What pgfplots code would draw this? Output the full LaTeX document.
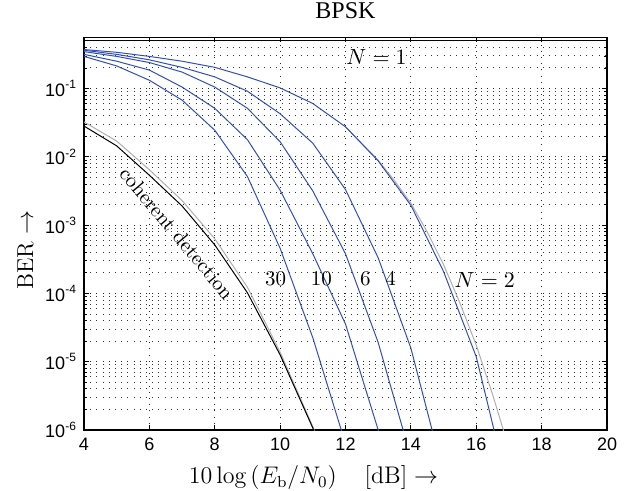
\documentclass[border=0pt]{standalone}
\usepackage{fontspec}
\usepackage{pgfplots}
\pgfplotsset{compat=1.18}
\newfontfamily\hv{Liberation Sans}
\newfontfamily\tm{Liberation Serif}
\definecolor{cblue}{RGB}{50,80,180}
\definecolor{cgray}{RGB}{175,175,175}
\begin{document}
\begin{tikzpicture}
\begin{semilogyaxis}[
  scale only axis, width=261.5pt, height=196.3pt,
  xmin=4, xmax=20, ymin=1e-6, ymax=0.56,
  xtick={4,6,8,10,12,14,16,18,20},
  xticklabels={4,6,8,10,12,14,16,18,20},
  ytick={1e-6,1e-5,1e-4,1e-3,1e-2,1e-1},
  yticklabels={10\textsuperscript{-6},10\textsuperscript{-5},10\textsuperscript{-4},10\textsuperscript{-3},10\textsuperscript{-2},10\textsuperscript{-1}},
  minor ytick={2e-6,3e-6,4e-6,5e-6,6e-6,7e-6,8e-6,9e-6,
               2e-5,3e-5,4e-5,5e-5,6e-5,7e-5,8e-5,9e-5,
               2e-4,3e-4,4e-4,5e-4,6e-4,7e-4,8e-4,9e-4,
               2e-3,3e-3,4e-3,5e-3,6e-3,7e-3,8e-3,9e-3,
               2e-2,3e-2,4e-2,5e-2,6e-2,7e-2,8e-2,9e-2,
               0.2,0.3,0.4,0.5},
  tick label style={font=\hv\fontsize{9}{10.5}\selectfont},
  xticklabel style={yshift=-0.5pt},
  xmajorgrids=true, ymajorgrids=true, yminorgrids=true,
  major grid style={black!85, line width=0.45pt, dash pattern=on 0.5pt off 2.6pt},
  minor grid style={black!80, line width=0.45pt, dash pattern=on 0.5pt off 2.6pt},
  tick align=inside, major tick length=2.5pt, minor tick length=1.3pt,
  every tick/.style={black, line width=0.4pt},
  axis line style={black, line width=0.65pt},
  title={\tm\fontsize{12}{14}\selectfont BPSK},
  xlabel={$10\log\left(E_{\mathrm{b}}/N_0\right)\quad[\mathrm{dB}]\rightarrow$},
  ylabel={BER $\rightarrow$},
  label style={font=\fontsize{11.5}{13.5}\selectfont},
  xlabel style={font=\fontsize{12}{14}\selectfont, yshift=-0.5pt, xshift=-16pt},
  ylabel style={xshift=-8pt, yshift=-1pt},
]
% gray reference curves (drawn below)
\addplot[cgray, line width=0.5pt] coordinates {
 (4,0.0324) (5,0.0170) (6,6.46e-3) (7,2.29e-3) (8,6.31e-4) (9,1.23e-4) (10,1.38e-5) (11,1.12e-6) (12,7.1e-8)};
\addplot[cgray, line width=0.5pt] coordinates {
 (12,0.0275) (13,8.91e-3) (13.5,4.47e-3) (14,2.09e-3) (14.5,7.94e-4) (15,2.63e-4) (15.5,7.24e-5) (16,1.74e-5) (16.5,3.31e-6) (17,5.37e-7)};
% coherent detection
\addplot[black, line width=0.5pt] coordinates {
 (4,0.0282) (5,0.01445) (6,5.37e-3) (7,1.905e-3) (8,5.13e-4) (9,1.02e-4) (10,1.26e-5) (11,1.07e-6) (12,6.3e-8)};
% N = 1
\addplot[black, line width=0.6pt] coordinates {(4,0.5) (20,0.5)};
% N = 2
\addplot[cblue, line width=0.5pt] coordinates {
 (4,0.372) (5,0.339) (6,0.295) (7,0.251) (8,0.204) (9,0.148) (10,0.102) (11,0.0603) (12,0.0275) (13,8.71e-3) (14,1.95e-3) (15,2.09e-4) (16,1.18e-5) (17,1.26e-7)};
% N = 4
\addplot[cblue, line width=0.5pt] coordinates {
 (4,0.363) (5,0.316) (6,0.263) (7,0.204) (8,0.148) (9,0.0912) (10,0.0427) (11,0.0158) (12,3.31e-3) (13,3.31e-4) (14,1.58e-5) (15,2.24e-7)};
% N = 6
\addplot[cblue, line width=0.5pt] coordinates {
 (4,0.347) (5,0.295) (6,0.240) (7,0.174) (8,0.105) (9,0.0513) (10,0.0166) (11,3.16e-3) (12,3.80e-4) (13,1.91e-5) (14,3.98e-7)};
% N = 10
\addplot[cblue, line width=0.5pt] coordinates {
 (4,0.316) (5,0.251) (6,0.186) (7,0.105) (8,0.0513) (9,0.0178) (10,3.24e-3) (11,3.80e-4) (12,3.55e-5) (13,1.0e-6) (14,2.5e-8)};
% N = 30
\addplot[cblue, line width=0.5pt] coordinates {
 (4,0.295) (5,0.214) (6,0.132) (7,0.0676) (8,0.0245) (9,5.13e-3) (10,4.57e-4) (11,2.24e-5) (12,6.3e-7)};
% labels
\node[font=\fontsize{10.5}{12}\selectfont] at (axis cs:12.95,0.29) {$N=1$};
\node[font=\fontsize{10.5}{12}\selectfont] at (axis cs:16.26,1.58e-4) {$N=2$};
\node[font=\fontsize{10.5}{12}\selectfont] at (axis cs:9.86,1.66e-4) {30};
\node[font=\fontsize{10.5}{12}\selectfont] at (axis cs:11.26,1.66e-4) {10};
\node[font=\fontsize{10.5}{12}\selectfont] at (axis cs:12.61,1.66e-4) {6};
\node[font=\fontsize{10.5}{12}\selectfont] at (axis cs:13.38,1.66e-4) {4};
\node[font=\fontsize{10.3}{12}\selectfont, rotate=-50] at (axis cs:6.84,7.6e-4) {coherent detection};
\end{semilogyaxis}
\path (current axis.south west) +(-42pt,-30.5pt) coordinate (bbA);
\path (current axis.north east) +(11.5pt,18.7pt) coordinate (bbB);
\pgfresetboundingbox
\path (bbA) rectangle (bbB);
\end{tikzpicture}
\end{document}
